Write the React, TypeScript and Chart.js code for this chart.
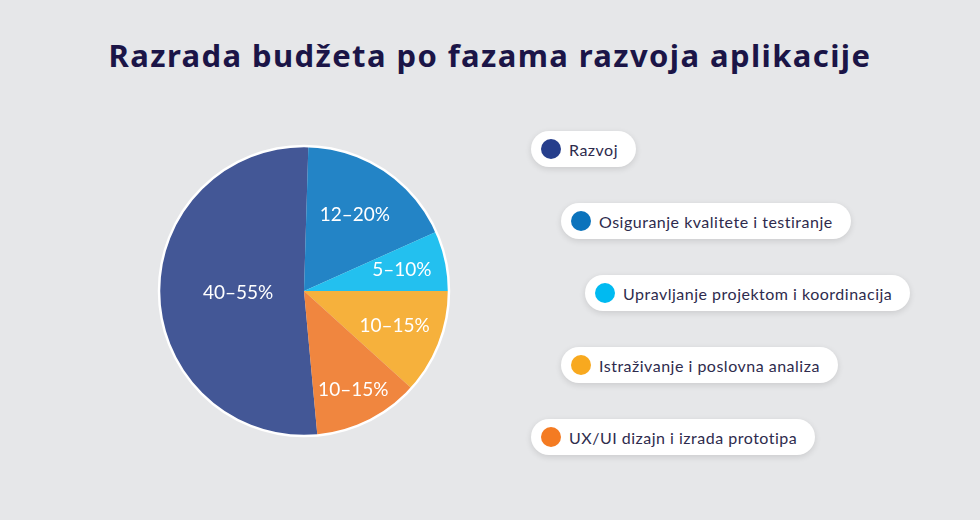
import React, { useEffect, useRef } from "react";
import { Chart, registerables } from "chart.js";

Chart.register(...registerables);

const chartTitle = "Razrada budžeta po fazama razvoja aplikacije";
const categories = [
  "Razvoj",
  "Osiguranje kvalitete i testiranje",
  "Upravljanje projektom i koordinacija",
  "Istraživanje i poslovna analiza",
  "UX/UI dizajn i izrada prototipa",
];
const shares = [51.9, 17.8, 6.7, 11.7, 11.8];
const rangeLabels = ["40–55%", "12–20%", "5–10%", "10–15%", "10–15%"];
const sliceColors = ["#435796", "#2384c6", "#23c0ef", "#f6b13c", "#f0863f"];
const legendColors = ["#263e8c", "#0b73bc", "#00baf1", "#f8a91f", "#f47b22"];

// layout (not data)
const labelRadius = [0.455, 0.63, 0.69, 0.67, 0.76];
const pillLeft = [531, 561, 585, 561, 531];
const pillTop = [131, 203, 275, 347, 419];

const sliceLabelPlugin = {
  id: "sliceLabels",
  afterDatasetsDraw(chart: any) {
    const ctx = chart.ctx;
    const meta = chart.getDatasetMeta(0);
    ctx.save();
    const first = meta.data[0] as any;
    if (first) {
      ctx.beginPath();
      ctx.arc(first.x, first.y, first.outerRadius, 0, Math.PI * 2);
      ctx.strokeStyle = "#ffffff";
      ctx.lineWidth = 2.5;
      ctx.stroke();
    }
    ctx.fillStyle = "#ffffff";
    ctx.font = "400 19px Lato, 'Noto Sans', sans-serif";
    ctx.textAlign = "center";
    ctx.textBaseline = "middle";
    meta.data.forEach((arc: any, i: number) => {
      const mid = (arc.startAngle + arc.endAngle) / 2;
      const r = arc.outerRadius * labelRadius[i];
      ctx.fillText(rangeLabels[i], arc.x + Math.cos(mid) * r, arc.y + Math.sin(mid) * r);
    });
    ctx.restore();
  },
};

export default function App() {
  const canvasRef = useRef<HTMLCanvasElement | null>(null);

  useEffect(() => {
    document.body.style.margin = "0";
    const canvas = canvasRef.current;
    if (!canvas) return;
    const chart = new Chart(canvas, {
      type: "pie",
      data: {
        labels: categories,
        datasets: [
          {
            data: shares,
            backgroundColor: sliceColors,
            borderWidth: 0,
          },
        ],
      },
      options: {
        responsive: false,
        animation: false,
        rotation: 174.7,
        layout: { padding: 2 },
        plugins: {
          legend: { display: false },
          tooltip: { enabled: false },
          title: { display: false },
        },
      },
      plugins: [sliceLabelPlugin],
    });
    return () => chart.destroy();
  }, []);

  return (
    <div
      style={{
        position: "relative",
        width: 980,
        height: 520,
        background: "#e6e7e9",
        overflow: "hidden",
        fontFamily: "Lato, 'Noto Sans', sans-serif",
      }}
    >
      <div
        style={{
          position: "absolute",
          left: 0,
          top: 35,
          width: 980,
          textAlign: "center",
          fontFamily: "'Noto Sans', sans-serif",
          fontSize: 31,
          fontWeight: 700,
          letterSpacing: 1.4,
          color: "#1b1547",
          lineHeight: "40px",
        }}
      >
        {chartTitle}
      </div>
      <canvas
        ref={canvasRef}
        width={294}
        height={294}
        style={{ position: "absolute", left: 157, top: 144, width: 294, height: 294 }}
      />
      {categories.map((c, i) => (
        <div
          key={c}
          style={{
            position: "absolute",
            left: pillLeft[i],
            top: pillTop[i],
            height: 36,
            borderRadius: 18,
            background: "#ffffff",
            boxShadow: "0 2px 6px rgba(0,0,0,0.12)",
            display: "flex",
            alignItems: "center",
            padding: "0 18px 0 10px",
            whiteSpace: "nowrap",
          }}
        >
          <span
            style={{
              width: 20,
              height: 20,
              borderRadius: 10,
              background: legendColors[i],
              display: "inline-block",
              marginRight: 8,
            }}
          />
          <span style={{ fontSize: 16, letterSpacing: 0.5, color: "#2e2b4d" }}>{c}</span>
        </div>
      ))}
    </div>
  );
}
